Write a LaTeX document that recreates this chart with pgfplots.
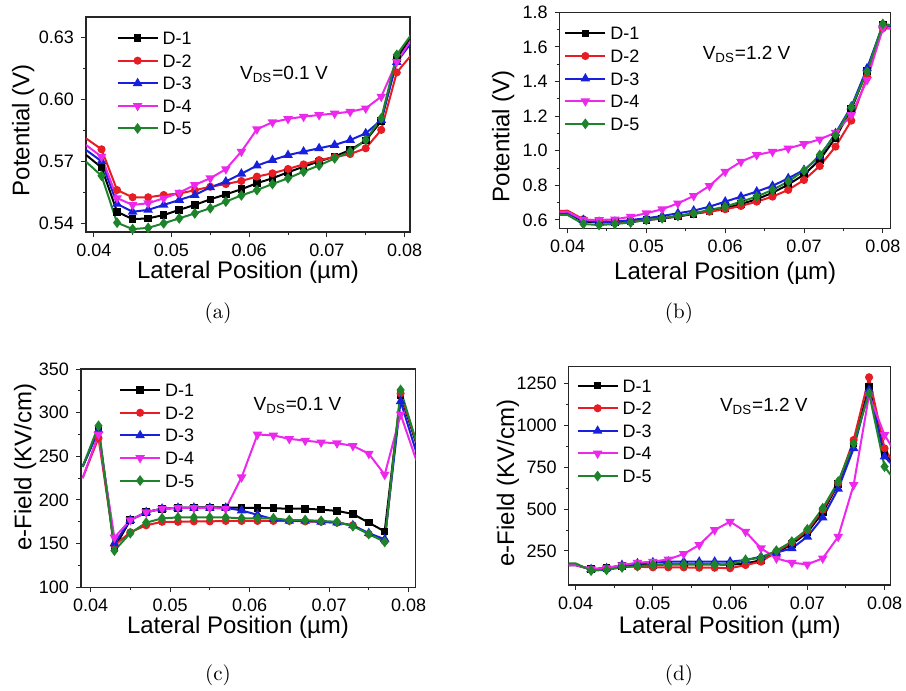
\documentclass[border=0pt]{standalone}
\usepackage{pgfplots}
\pgfplotsset{compat=1.18}
\usepackage{pgfplotstable}
\usepackage{fontspec}
\newfontfamily\arial{Liberation Sans}

\definecolor{cRed}{RGB}{232,28,36}
\definecolor{cBlue}{RGB}{24,32,220}
\definecolor{cMag}{RGB}{236,40,236}
\definecolor{cGreen}{RGB}{30,132,44}

% potential, V_DS = 0.1 V
\pgfplotstableread{
x      d1      d2      d3      d4      d5
0.039  0.5731  0.5811  0.5755  0.5779  0.5698
0.041  0.5670  0.5758  0.5700  0.5722  0.5630
0.043  0.5456  0.5561  0.5494  0.5522  0.5403
0.045  0.5420  0.5526  0.5456  0.5489  0.5372
0.047  0.5424  0.5526  0.5465  0.5497  0.5378
0.049  0.5440  0.5537  0.5489  0.5521  0.5400
0.051  0.5465  0.5544  0.5513  0.5548  0.5424
0.053  0.5489  0.5560  0.5537  0.5586  0.5448
0.055  0.5516  0.5577  0.5574  0.5618  0.5473
0.057  0.5540  0.5590  0.5602  0.5662  0.5505
0.059  0.5565  0.5605  0.5640  0.5747  0.5535
0.061  0.5594  0.5626  0.5679  0.5855  0.5561
0.063  0.5618  0.5642  0.5706  0.5889  0.5590
0.065  0.5647  0.5663  0.5730  0.5905  0.5618
0.067  0.5674  0.5685  0.5747  0.5916  0.5650
0.069  0.5700  0.5706  0.5763  0.5924  0.5680
0.071  0.5723  0.5720  0.5779  0.5931  0.5714
0.073  0.5755  0.5735  0.5803  0.5940  0.5747
0.075  0.5800  0.5763  0.5835  0.5956  0.5803
0.077  0.5895  0.5852  0.5900  0.6013  0.5908
0.079  0.6198  0.6130  0.6180  0.6182  0.6215
0.081  0.6310  0.6220  0.6280  0.6295  0.6320
}\tabA

% potential, V_DS = 1.2 V
\pgfplotstableread{
x      d1     d2     d3     d4     d5
0.038  0.640  0.650  0.640  0.645  0.630
0.040  0.640  0.654  0.639  0.648  0.629
0.042  0.592  0.604  0.600  0.600  0.577
0.044  0.585  0.596  0.585  0.600  0.571
0.046  0.588  0.590  0.590  0.604  0.577
0.048  0.592  0.590  0.600  0.619  0.585
0.050  0.600  0.600  0.610  0.639  0.600
0.052  0.608  0.610  0.623  0.662  0.610
0.054  0.620  0.623  0.639  0.696  0.623
0.056  0.635  0.639  0.654  0.739  0.639
0.058  0.650  0.648  0.677  0.797  0.658
0.060  0.668  0.662  0.706  0.879  0.677
0.062  0.692  0.681  0.735  0.937  0.706
0.064  0.720  0.706  0.764  0.976  0.735
0.066  0.757  0.735  0.797  0.995  0.774
0.068  0.805  0.774  0.841  1.014  0.822
0.070  0.862  0.831  0.889  1.039  0.885
0.072  0.948  0.912  0.966  1.066  0.976
0.074  1.075  1.024  1.101  1.105  1.091
0.076  1.240  1.174  1.255  1.207  1.251
0.078  1.462  1.428  1.476  1.409  1.457
0.080  1.725  1.708  1.727  1.708  1.733
0.082  1.720  1.705  1.720  1.705  1.720
}\tabB

% e-field, V_DS = 0.1 V
\pgfplotstableread{
x      d1     d2     d3     d4     d5
0.039  238    225    238    225    238
0.041  280    271    280    275    285
0.043  145    148    150    157    142
0.045  177    163    177    177    162
0.047  186    171    186    186    174
0.049  190    175    190    190    179
0.051  191    175    191    191    180
0.053  191.5  175.5  191    191    180
0.055  191.5  175.5  191    191    180
0.057  191.5  176    191    190    180
0.059  191    176    188    226    179
0.061  191    176    183    275    179
0.063  190.5  176    178    274    179
0.065  190    176    176    270    177
0.067  190    175.5  176    268    177
0.069  189    175    175    266    176
0.071  187.5  174    174    265    175
0.073  184    171    171    262    170
0.075  174    161    162    253    161
0.077  164    153    155    229    152
0.079  320    322    313    298    326
0.081  264    266    254    245    266
}\tabC

% e-field, V_DS = 1.2 V
\pgfplotstableread{
x      d1     d2     d3     d4     d5
0.038  166    166    166    166    176
0.040  166    166    166    166    176
0.042  141    141    141    141    133
0.044  147    147    147    147    137
0.046  160    156    166    166    152
0.048  166    156    176    180    160
0.050  168    152    182    186    166
0.052  170    152    186    200    170
0.054  170    152    186    232    170
0.056  170    150    186    286    170
0.058  170    150    186    375    170
0.060  168    147    186    425    170
0.062  175    166    196    365    196
0.064  195    186    216    266    210
0.066  240    246    240    206    252
0.068  290    300    266    180    306
0.070  360    371    335    170    379
0.072  480    495    449    206    505
0.074  650    654    620    335    664
0.076  890    912    862    644    892
0.078  1230   1286   1210   1180   1190
0.080  830    862    813    942    753
0.082  730    714    713    792    628
}\tabD

\pgfplotsset{
  panel/.style={
    scale only axis, anchor=north west,
    tick align=outside, xtick pos=bottom, ytick pos=left,
    axis line style={line width=0.6pt, black!85},
    major tick length=2.5pt, minor tick length=1.5pt,
    every tick/.style={black!85, line width=0.5pt},
    minor x tick num=1, minor y tick num=1,
    scaled x ticks=false, scaled y ticks=false,
    xtick={0.04,0.05,0.06,0.07,0.08},
    xticklabel style={/pgf/number format/fixed, /pgf/number format/precision=2,
                      /pgf/number format/fixed zerofill},
    /pgf/number format/assume math mode=true,
    /pgf/number format/1000 sep={},
    tick label style={font=\arial\fontsize{9}{10}\selectfont},
    xlabel={Lateral Position (µm)},
    every axis x label/.style={anchor=center, font=\arial\fontsize{12}{14}\selectfont},
    every axis y label/.style={rotate=90, anchor=center, font=\arial\fontsize{12}{14}\selectfont},
    legend style={draw=none, fill=none, anchor=north west,
                  font=\arial\fontsize{9}{10}\selectfont,
                  nodes={inner ysep=2.4pt, text height=6.5pt, text depth=0pt}},
    legend cell align=left,
    legend image code/.code={\draw[mark indices={2}]
        plot coordinates {(0cm,0cm)(0.35cm,0cm)(0.7cm,0cm)};},
  },
  s1/.style={black, line width=1pt, mark=square*, mark size=1.4pt, mark options={solid}},
  s2/.style={cRed, line width=1pt, mark=*, mark size=1.5pt, mark options={solid}},
  s3/.style={cBlue, line width=1pt, mark=triangle*, mark size=1.8pt, mark options={solid}},
  s4/.style={cMag, line width=1pt, mark=triangle*, mark size=1.8pt, mark options={solid, rotate=180}},
  s5/.style={cGreen, line width=1pt, mark=diamond*, mark size=1.9pt, mark options={solid}},
}

\begin{document}
\begin{tikzpicture}
\path[use as bounding box] (0,0) rectangle (453pt,-345.5pt);

% (a)
\begin{axis}[panel, at={(43pt,-8.5pt)}, width=162pt, height=107.5pt,
  xmin=0.039, xmax=0.0807, ymin=0.5358, ymax=0.6398,
  ytick={0.54,0.57,0.60,0.63},
  yticklabel style={/pgf/number format/fixed, /pgf/number format/precision=2,
                    /pgf/number format/fixed zerofill},
  ylabel={Potential (V)},
  ylabel style={at={(axis description cs:-0.194,0.474)}},
  xlabel style={at={(axis description cs:0.5,-0.186)}},
  legend style={at={(axis description cs:0.075,0.975)}}]
\addplot[s1, mark indices={2,...,21}] table[x=x,y=d1]{\tabA};
\addplot[s2, mark indices={2,...,21}] table[x=x,y=d2]{\tabA};
\addplot[s3, mark indices={2,...,21}] table[x=x,y=d3]{\tabA};
\addplot[s4, mark indices={2,...,21}] table[x=x,y=d4]{\tabA};
\addplot[s5, mark indices={2,...,21}] table[x=x,y=d5]{\tabA};
\legend{D-1,D-2,D-3,D-4,D-5}
\node[anchor=west, font=\arial\fontsize{9.5}{11}\selectfont]
  at (rel axis cs:0.454,0.735) {V\textsubscript{DS}=0.1 V};
\end{axis}

% (b)
\begin{axis}[panel, at={(279.85pt,-6.15pt)}, width=165.5pt, height=108pt,
  xmin=0.039, xmax=0.081, ymin=0.552, ymax=1.8,
  ytick={0.6,0.8,1.0,1.2,1.4,1.6,1.8},
  yticklabel style={/pgf/number format/fixed, /pgf/number format/precision=1,
                    /pgf/number format/fixed zerofill},
  ylabel={Potential (V)},
  ylabel style={at={(axis description cs:-0.171,0.427)}},
  xlabel style={at={(axis description cs:0.5,-0.21)}},
  legend style={at={(axis description cs:-0.005,0.975)}}]
\addplot[s1, mark indices={2,...,22}] table[x=x,y=d1]{\tabB};
\addplot[s2, mark indices={2,...,22}] table[x=x,y=d2]{\tabB};
\addplot[s3, mark indices={2,...,22}] table[x=x,y=d3]{\tabB};
\addplot[s4, mark indices={2,...,22}] table[x=x,y=d4]{\tabB};
\addplot[s5, mark indices={2,...,22}] table[x=x,y=d5]{\tabB};
\legend{D-1,D-2,D-3,D-4,D-5}
\node[anchor=west, font=\arial\fontsize{9.5}{11}\selectfont]
  at (rel axis cs:0.411,0.807) {V\textsubscript{DS}=1.2 V};
\end{axis}

% (c)
\begin{axis}[panel, at={(40.5pt,-184.5pt)}, width=167.35pt, height=109.15pt,
  xmin=0.0388, xmax=0.0809, ymin=100, ymax=350,
  ytick={100,150,200,250,300,350},
  ylabel={e-Field (KV/cm)},
  ylabel style={at={(axis description cs:-0.167,0.551)}},
  xlabel style={at={(axis description cs:0.469,-0.183)}},
  legend style={at={(axis description cs:0.095,0.975)}}]
\addplot[s1, mark indices={2,...,21}] table[x=x,y=d1]{\tabC};
\addplot[s2, mark indices={2,...,21}] table[x=x,y=d2]{\tabC};
\addplot[s3, mark indices={2,...,21}] table[x=x,y=d3]{\tabC};
\addplot[s4, mark indices={2,...,21}] table[x=x,y=d4]{\tabC};
\addplot[s5, mark indices={2,...,21}] table[x=x,y=d5]{\tabC};
\legend{D-1,D-2,D-3,D-4,D-5}
\node[anchor=west, font=\arial\fontsize{9.5}{11}\selectfont]
  at (rel axis cs:0.495,0.835) {V\textsubscript{DS}=0.1 V};
\end{axis}

% (d)
\begin{axis}[panel, at={(284.35pt,-183.35pt)}, width=161pt, height=109.15pt,
  xmin=0.0391, xmax=0.0808, ymin=47, ymax=1349,
  ytick={250,500,750,1000,1250},
  ylabel={e-Field (KV/cm)},
  ylabel style={at={(axis description cs:-0.1885,0.467)}},
  xlabel style={at={(axis description cs:0.5,-0.192)}},
  legend style={at={(axis description cs:0.005,0.985)}}]
\addplot[s1, mark indices={2,...,22}] table[x=x,y=d1]{\tabD};
\addplot[s2, mark indices={2,...,22}] table[x=x,y=d2]{\tabD};
\addplot[s3, mark indices={2,...,22}] table[x=x,y=d3]{\tabD};
\addplot[s4, mark indices={2,...,22}] table[x=x,y=d4]{\tabD};
\addplot[s5, mark indices={2,...,22}] table[x=x,y=d5]{\tabD};
\legend{D-1,D-2,D-3,D-4,D-5}
\node[anchor=west, font=\arial\fontsize{9.5}{11}\selectfont]
  at (rel axis cs:0.448,0.817) {V\textsubscript{DS}=1.2 V};
\end{axis}

% sub-figure captions
\node[font=\fontsize{10.5}{12}\selectfont] at (109pt,-156.5pt) {(a)};
\node[font=\fontsize{10.5}{12}\selectfont] at (339.5pt,-156.5pt) {(b)};
\node[font=\fontsize{10.5}{12}\selectfont] at (109pt,-337.5pt) {(c)};
\node[font=\fontsize{10.5}{12}\selectfont] at (339.5pt,-337.5pt) {(d)};
\end{tikzpicture}
\end{document}
